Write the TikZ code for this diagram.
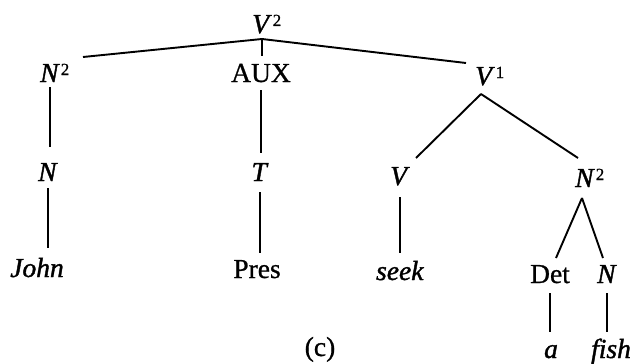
\documentclass[tikz,border=0pt]{standalone}
\usepackage{fontspec}
\setmainfont{Liberation Serif}[UprightFeatures={FakeBold=0.8}, ItalicFeatures={FakeBold=1.4}]
\usetikzlibrary{calc}
\newcommand{\barlevel}[1]{\rlap{\kern1pt\raisebox{7pt}{\fontsize{17}{20}\selectfont #1}}}
\begin{document}
\begin{tikzpicture}[x=1pt,y=-1pt,
  every node/.style={font=\fontsize{27.5}{32}\selectfont, inner sep=0pt, text height=18pt, text depth=0pt, anchor=base},
  br/.style={line width=1.9pt}]
\useasboundingbox (0,0) rectangle (630,364);
% nodes (x = centre, y = baseline, in pixels from top-left)
\node (V2)   at (262,33)  {\textit{V}\barlevel{2}};
\node (N2a)  at (50,82)   {\textit{N}\barlevel{2}};
\node (AUX)  at (261,82)  {AUX};
\node (V1)   at (485,85)  {\textit{V}\barlevel{1}};
\node (N1)   at (48,181)  {\textit{N}};
\node (T)    at (260,181) {\textit{T}};
\node (V)    at (400,185) {\textit{V}};
\node (N2b)  at (585,187) {\textit{N}\barlevel{2}};
\node (John) at (37,277)  {\textit{John}};
\node (Pres) at (257,278) {Pres};
\node (seek) at (400,280) {\textit{seek}};
\node (Det)  at (550,283) {Det};
\node (N3)   at (607,283) {\textit{N}};
\node (a)    at (551,358) {\textit{a}};
\node (fish) at (611,358) {\textit{fish}};
\node (c)    at (320,356) {(c)};
% branches from V2
\coordinate (top) at ($(V2.base)+(0,6)$);
\draw[br] (top) -- ($(N2a.base)+(33,-25)$);
\draw[br] (top) -- ($(V1.base)+(-19,-22)$);
\draw[br, shorten >=8pt] (top) -- (top |- AUX.north);
% unary branches
\draw[br, shorten <=5pt, shorten >=16pt] (N2a.south) -- (N2a.south |- N1.north);
\draw[br, shorten <=7pt, shorten >=11pt] (N1.south) -- (N1.south |- John.north);
\draw[br, shorten <=8pt, shorten >=10pt] (AUX.south) -- (AUX.south |- T.north);
\draw[br, shorten <=11pt, shorten >=7pt] (T.south) -- (T.south |- Pres.north);
\draw[br, shorten <=12pt, shorten >=9pt] (V.south) -- (V.south |- seek.north);
\draw[br, shorten <=10pt, shorten >=8pt] (Det.south) -- (Det.south |- a.north);
\draw[br, shorten <=10pt, shorten >=8pt] (N3.south) -- (N3.south |- fish.north);
% branches from V1
\coordinate (v1apex) at ($(V1.base)+(-4,9)$);
\draw[br] (v1apex) -- ($(V.base)+(16,-27)$);
\draw[br] (v1apex) -- ($(N2b.base)+(-7,-29)$);
% branches from lower N2
\coordinate (n2apex) at ($(N2b.base)+(-3,11)$);
\draw[br] (n2apex) -- ($(Det.base)+(6,-25)$);
\draw[br] (n2apex) -- ($(N3.base)+(-4,-25)$);
\end{tikzpicture}
\end{document}
